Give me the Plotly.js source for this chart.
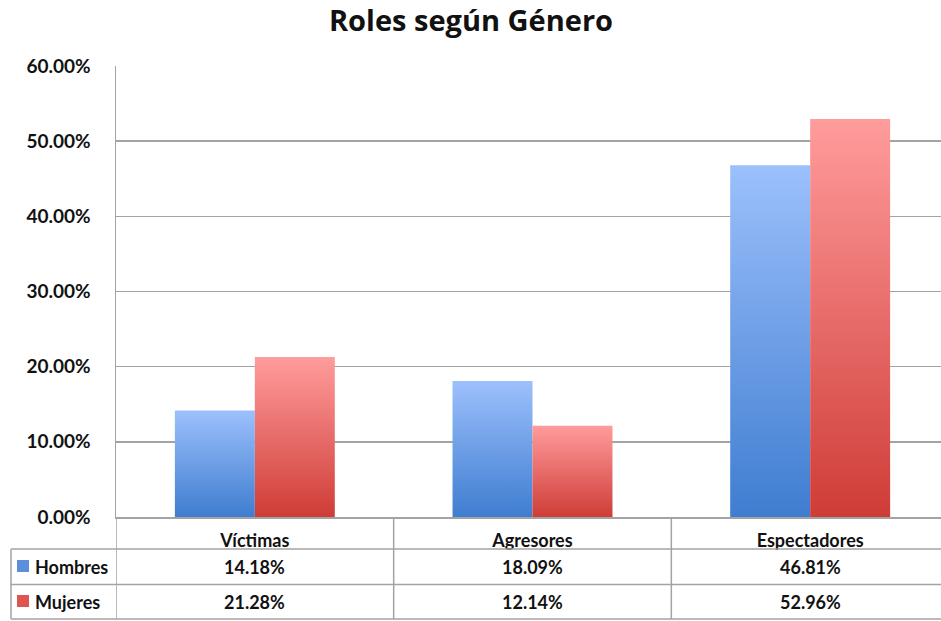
<!DOCTYPE html>
<html>
<head>
<meta charset="utf-8">
<script src="https://cdn.plot.ly/plotly-3.0.1.min.js"></script>
<style>
html,body{margin:0;padding:0;overflow:hidden;background:#fff;}
#chart{width:950px;height:621px;}
</style>
</head>
<body>
<div id="chart"></div>
<script>
const categories = ['Víctimas', 'Agresores', 'Espectadores'];
const hombres = [14.18, 18.09, 46.81];
const mujeres = [21.28, 12.14, 52.96];
const seriesNames = ['Hombres', 'Mujeres'];
const titleText = 'Roles según Género';

const FONT = 'Lato, "Open Sans", sans-serif';
const TFONT = '"Open Sans", Lato, sans-serif';
const W = 'bold';
const GRID = '#a3a3a3';
const TXT = '#111111';

const H = 621, plotTop = 66, plotBottom = 517;
const ph = plotBottom - plotTop;
const py = p => (plotBottom - p) / ph; // pixel row -> paper y

const fmt = v => v.toFixed(2) + '%';

const traces = [
  {type: 'bar', name: seriesNames[0], x: categories, y: hombres,
   marker: {color: '#6a9be6', line: {width: 0}}, hoverinfo: 'none'},
  {type: 'bar', name: seriesNames[1], x: categories, y: mujeres,
   marker: {color: '#e86a68', line: {width: 0}}, hoverinfo: 'none'}
];

const rowY = [py(567), py(602)];
const annotations = [];
categories.forEach((c, i) => {
  annotations.push({x: c, xref: 'x', y: rowY[0], yref: 'paper', text: fmt(hombres[i]),
    showarrow: false, font: {family: FONT, size: 18, color: TXT, weight: W}, yanchor: 'middle'});
  annotations.push({x: c, xref: 'x', y: rowY[1], yref: 'paper', text: fmt(mujeres[i]),
    showarrow: false, font: {family: FONT, size: 18, color: TXT, weight: W}, yanchor: 'middle'});
});
const labelX = (33 - 116) / 833;
seriesNames.forEach((n, j) => {
  annotations.push({x: labelX, xref: 'paper', y: rowY[j], yref: 'paper', text: n,
    showarrow: false, xanchor: 'left', yanchor: 'middle',
    font: {family: FONT, size: 18, color: TXT, weight: W}});
});

const lineStyle = {color: GRID, width: 1.5};
const shapes = [];
[549, 584.5, 619].forEach(p => {
  shapes.push({type: 'line', xref: 'paper', yref: 'paper', x0: (11 - 116) / 833, x1: 1.01, y0: py(p), y1: py(p), line: lineStyle});
});
[-0.5, 0.5, 1.5, 2.5].forEach(xv => {
  shapes.push({type: 'line', xref: 'x', yref: 'paper', x0: xv, x1: xv, y0: 0, y1: py(619), line: lineStyle});
});
shapes.push({type: 'line', xref: 'paper', yref: 'paper', x0: (11 - 116) / 833, x1: (11 - 116) / 833, y0: py(549), y1: py(619), line: lineStyle});
const swatchCol = ['#5b8fdc', '#df5552'];
swatchCol.forEach((col, j) => {
  const cy = j === 0 ? 567 : 602;
  shapes.push({type: 'rect', xref: 'paper', yref: 'paper', x0: (17 - 116) / 833, x1: (29 - 116) / 833,
    y0: py(cy + 5), y1: py(cy - 7), fillcolor: col, line: {width: 0}});
});

const layout = {
  width: 950, height: H,
  margin: {l: 116, r: 1, t: plotTop, b: H - plotBottom},
  paper_bgcolor: '#fff', plot_bgcolor: '#fff',
  title: {text: titleText, x: 471 / 950, xanchor: 'center', y: 1 - 21 / H, yanchor: 'middle',
    font: {family: TFONT, size: 29, color: TXT, weight: 'bold'}},
  showlegend: false,
  barmode: 'group', bargap: 0.424, bargroupgap: 0,
  xaxis: {type: 'category', showgrid: false, zeroline: false, showline: true, linecolor: GRID, linewidth: 1.5,
    ticks: '', ticklabelstandoff: 7, tickfont: {family: FONT, size: 18, color: TXT, weight: W},
    range: [-0.5, 2.5], fixedrange: true},
  yaxis: {range: [0, 60], dtick: 10, tick0: 0, tickformat: '.2f', ticksuffix: '%',
    showgrid: true, gridcolor: GRID, gridwidth: 1.5, zeroline: false,
    showline: true, linecolor: GRID, linewidth: 1.5, ticks: '', ticklabelstandoff: 20,
    tickfont: {family: FONT, size: 19, color: TXT, weight: W}, fixedrange: true},
  annotations: annotations,
  shapes: shapes
};

Plotly.newPlot('chart', traces, layout, {displayModeBar: false, staticPlot: true}).then(gd => {
  const svg = gd.querySelector('svg.main-svg');
  let defs = svg.querySelector('defs');
  const NS = 'http://www.w3.org/2000/svg';
  const grads = [
    {id: 'gBlue', top: '#9cc0fc', bot: '#3f7dd0'},
    {id: 'gRed', top: '#ff9c9c', bot: '#cf3c37'}
  ];
  grads.forEach(g => {
    const lg = document.createElementNS(NS, 'linearGradient');
    lg.setAttribute('id', g.id);
    lg.setAttribute('x1', '0'); lg.setAttribute('y1', '0');
    lg.setAttribute('x2', '0'); lg.setAttribute('y2', '1');
    const s1 = document.createElementNS(NS, 'stop');
    s1.setAttribute('offset', '0'); s1.setAttribute('stop-color', g.top);
    const s2 = document.createElementNS(NS, 'stop');
    s2.setAttribute('offset', '1'); s2.setAttribute('stop-color', g.bot);
    lg.appendChild(s1); lg.appendChild(s2);
    defs.appendChild(lg);
  });
  gd.querySelectorAll('g.trace.bars').forEach((tg, i) => {
    tg.querySelectorAll('g.point path').forEach(p => {
      p.style.fill = 'url(#' + grads[i].id + ')';
    });
  });
});
</script>
</body>
</html>
